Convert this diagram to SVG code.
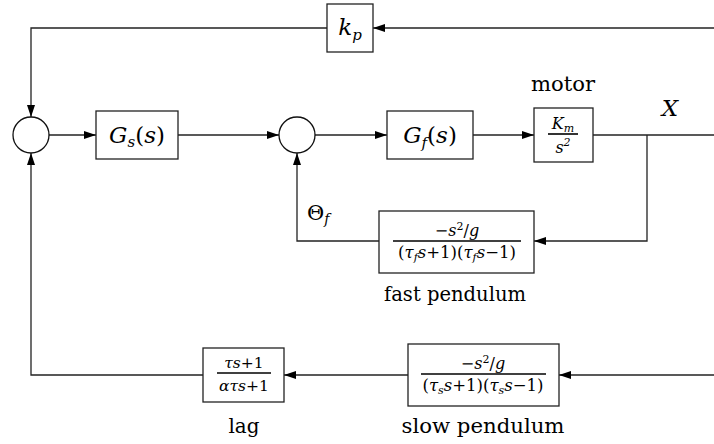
<svg xmlns="http://www.w3.org/2000/svg" width="714" height="444" viewBox="0 0 714 444">
<defs>
<marker id="ah" viewBox="0 0 12 8" refX="12" refY="4" markerWidth="12" markerHeight="8" markerUnits="userSpaceOnUse" orient="auto">
<path d="M0,0 L12,4 L0,8 z" fill="#000"/>
</marker>
<style>
.box{fill:#fff;stroke:#222;stroke-width:1.3}
.sum{fill:#fff;stroke:#111;stroke-width:1.3}
.ln{fill:none;stroke:#222;stroke-width:1.3}
.bar{stroke:#000;stroke-width:1.6}
.i{font-style:italic}
</style>
</defs>
<rect width="714" height="444" fill="#fff"/>
<g id="connectors">
<path class="ln" d="M714,28 H373" marker-end="url(#ah)"/>
<path class="ln" d="M327,28 H31 V117" marker-end="url(#ah)"/>
<path class="ln" d="M49,135 H96" marker-end="url(#ah)"/>
<path class="ln" d="M178,135 H279" marker-end="url(#ah)"/>
<path class="ln" d="M315,135 H387" marker-end="url(#ah)"/>
<path class="ln" d="M473,135 H534" marker-end="url(#ah)"/>
<path class="ln" d="M593,135 H714"/>
<path class="ln" d="M647,135 V241 H534" marker-end="url(#ah)"/>
<path class="ln" d="M379,241 H297 V153" marker-end="url(#ah)"/>
<path class="ln" d="M714,375 H559" marker-end="url(#ah)"/>
<path class="ln" d="M408,375 H284" marker-end="url(#ah)"/>
<path class="ln" d="M203,375 H31 V153" marker-end="url(#ah)"/>
</g>
<g font-family="DejaVu Serif, Liberation Serif, serif" fill="#000">
<g id="kp">
<rect class="box" x="327" y="4" width="46" height="48"/>
<text class="i" x="350" y="35" font-size="23" text-anchor="middle">k<tspan font-size="15" dy="5">p</tspan></text>
</g>
<g id="sum1">
<ellipse class="sum" cx="31" cy="135" rx="18" ry="18"/>
</g>
<g id="Gs">
<rect class="box" x="96" y="111" width="82" height="48"/>
<text x="137" y="143" font-size="23" text-anchor="middle"><tspan class="i">G</tspan><tspan class="i" font-size="15" dy="4">s</tspan><tspan dy="-4">(</tspan><tspan class="i">s</tspan>)</text>
</g>
<g id="sum2">
<ellipse class="sum" cx="297" cy="135" rx="18" ry="18"/>
</g>
<g id="Gf">
<rect class="box" x="387" y="111" width="86" height="48"/>
<text x="430" y="143" font-size="23" text-anchor="middle"><tspan class="i">G</tspan><tspan class="i" font-size="15" dy="5">f</tspan><tspan dy="-5">(</tspan><tspan class="i">s</tspan>)</text>
</g>
<g id="motor">
<rect class="box" x="534" y="108" width="59" height="54"/>
<text class="i" x="563" y="129" font-size="16" text-anchor="middle">K<tspan font-size="11" dy="3">m</tspan></text>
<line class="bar" x1="548" y1="134" x2="578" y2="134"/>
<text class="i" x="563" y="153" font-size="16" text-anchor="middle">s<tspan font-size="11" dy="-7">2</tspan></text>
<text x="563" y="91" font-size="21" text-anchor="middle" textLength="64" lengthAdjust="spacingAndGlyphs">motor</text>
</g>
<g id="X">
<text class="i" x="670" y="116" font-size="23" text-anchor="middle">X</text>
</g>
<g id="theta">
<text x="307" y="220" font-size="21">Θ<tspan class="i" font-size="14" dy="4">f</tspan></text>
</g>
<g id="fast">
<rect class="box" x="379" y="211" width="155" height="62"/>
<text x="457" y="236" font-size="16" text-anchor="middle">−<tspan class="i">s</tspan><tspan font-size="11" dy="-6">2</tspan><tspan dy="6">/</tspan><tspan class="i">g</tspan></text>
<line class="bar" x1="393" y1="241" x2="521" y2="241"/>
<text x="457" y="258" font-size="16.5" text-anchor="middle">(<tspan class="i">τ</tspan><tspan class="i" font-size="11" dy="3">f</tspan><tspan class="i" dy="-3">s</tspan>+1)(<tspan class="i">τ</tspan><tspan class="i" font-size="11" dy="3">f</tspan><tspan class="i" dy="-3">s</tspan>−1)</text>
<text x="455" y="301" font-size="21" text-anchor="middle" textLength="142" lengthAdjust="spacingAndGlyphs">fast pendulum</text>
</g>
<g id="slow">
<rect class="box" x="408" y="344" width="151" height="62"/>
<text x="483" y="369" font-size="16" text-anchor="middle">−<tspan class="i">s</tspan><tspan font-size="11" dy="-6">2</tspan><tspan dy="6">/</tspan><tspan class="i">g</tspan></text>
<line class="bar" x1="421" y1="374" x2="546" y2="374"/>
<text x="483" y="391" font-size="16.5" text-anchor="middle">(<tspan class="i">τ</tspan><tspan class="i" font-size="11" dy="3">s</tspan><tspan class="i" dy="-3">s</tspan>+1)(<tspan class="i">τ</tspan><tspan class="i" font-size="11" dy="3">s</tspan><tspan class="i" dy="-3">s</tspan>−1)</text>
<text x="483" y="433" font-size="21" text-anchor="middle" textLength="163" lengthAdjust="spacingAndGlyphs">slow pendulum</text>
</g>
<g id="lag">
<rect class="box" x="203" y="348" width="81" height="54"/>
<text x="244" y="368" font-size="15.5" text-anchor="middle"><tspan class="i">τs</tspan>+1</text>
<line class="bar" x1="217" y1="373" x2="271" y2="373"/>
<text x="244" y="391" font-size="15.5" text-anchor="middle"><tspan class="i">ατs</tspan>+1</text>
<text x="244" y="433" font-size="21" text-anchor="middle" textLength="31" lengthAdjust="spacingAndGlyphs">lag</text>
</g>
</g>
</svg>
